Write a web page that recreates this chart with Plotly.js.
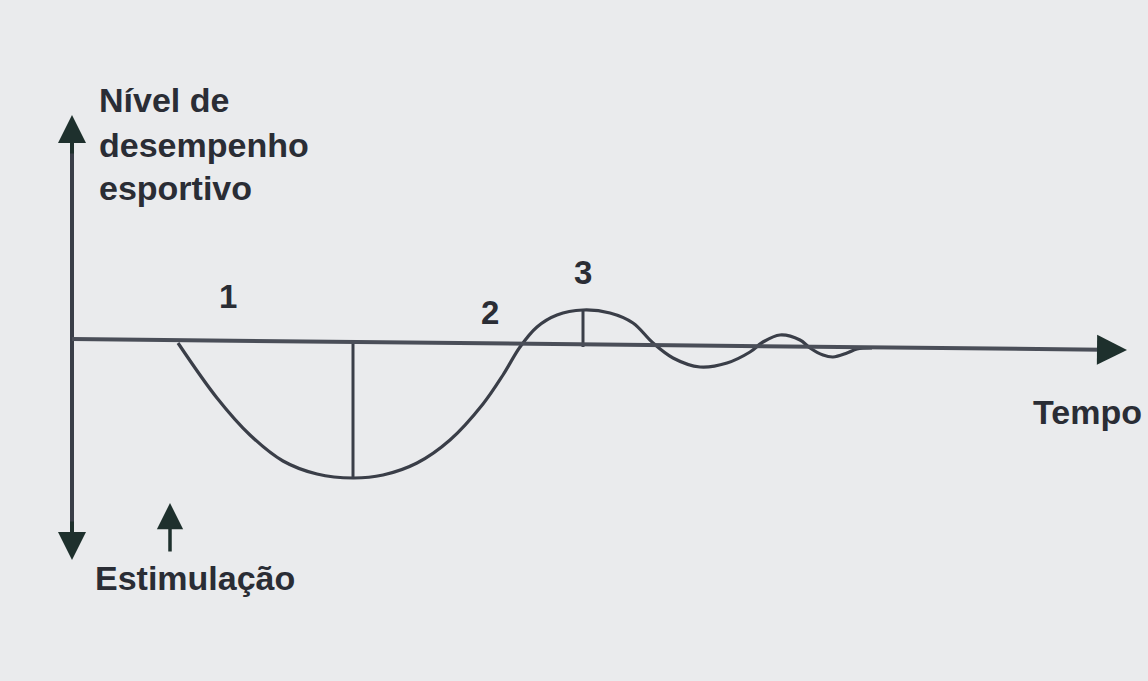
<!DOCTYPE html>
<html>
<head>
<meta charset="utf-8">
<script src="https://cdn.plot.ly/plotly-3.0.1.min.js"></script>
<style>html,body{margin:0;padding:0;background:#eaebed;}#chart{width:1148px;height:681px;}</style>
</head>
<body>
<div id="chart"></div>
<script>
// Performance response curve (time units vs. performance level)
const tempo = [10.6, 14.5, 17.8, 21.1, 24.5, 28.1, 31.1, 34.5, 37.8, 41.1, 43.1, 44.8, 46.5, 48.5, 51.1, 53.8, 56.1, 58.1, 60.1, 62.8, 65.5, 67.8, 69.1, 70.8, 72.8, 73.8, 75.1, 76.1, 77.5, 78.5, 80.0];
const desempenho = [0.2, -5.3, -9.0, -11.6, -12.9, -13.3, -13.0, -11.8, -9.5, -5.9, -3.0, -0.2, 1.8, 3.0, 3.5, 3.2, 2.2, 0.2, -1.3, -2.2, -1.8, -0.7, 0.3, 1.0, 0.5, -0.3, -1.0, -1.2, -0.8, -0.4, -0.3];

// Marker lines (time, from, to)
const markX = [28.1, 51.1];
const markFrom = [0.3, -0.2];
const markTo = [-13.3, 3.5];

// Axes extents
const timeAxis = {x0: 0, y0: 0.6, x1: 105.5, y1: -0.5};
const perfAxis = {x: 0, top: 23.0, bottom: -21.5};

// Labels
const yTitleLines = ['Nível de', 'desempenho', 'esportivo'];
const yTitleY = [24.5, 20.0, 15.7];
const phaseLabels = ['1', '2', '3'];
const phaseX = [15.6, 41.8, 51.1];
const phaseY = [4.9, 3.3, 7.3];

const ink = '#3a3e48';
const head = '#1e302d';
const textColor = '#2a2d35';
const font = 'Liberation Sans, Arial, sans-serif';

const traces = [
  {x: tempo, y: desempenho, mode: 'lines', line: {color: ink, width: 3.2, shape: 'spline', smoothing: 1}, hoverinfo: 'skip'}
];
markX.forEach((mx, i) => {
  traces.push({x: [mx, mx], y: [markFrom[i], markTo[i]], mode: 'lines', line: {color: ink, width: 3}, hoverinfo: 'skip'});
});
// axis lines
traces.push({x: [perfAxis.x, perfAxis.x], y: [perfAxis.top - 2, perfAxis.bottom + 2], mode: 'lines', line: {color: ink, width: 4}, hoverinfo: 'skip'});
traces.push({x: [timeAxis.x0, timeAxis.x1 - 2.5], y: [timeAxis.y0, timeAxis.y1 + 0.03], mode: 'lines', line: {color: '#4a4e58', width: 4}, hoverinfo: 'skip'});

const arrowBase = {xref: 'x', yref: 'y', axref: 'x', ayref: 'y', text: '', showarrow: true, arrowhead: 2, arrowcolor: head};
const annotations = [
  Object.assign({}, arrowBase, {x: perfAxis.x, y: perfAxis.top, ax: perfAxis.x, ay: perfAxis.top - 4, arrowsize: 1.4, arrowwidth: 4}),
  Object.assign({}, arrowBase, {x: perfAxis.x, y: perfAxis.bottom, ax: perfAxis.x, ay: perfAxis.bottom + 4, arrowsize: 1.4, arrowwidth: 4}),
  Object.assign({}, arrowBase, {x: timeAxis.x1, y: timeAxis.y1, ax: timeAxis.x1 - 3, ay: timeAxis.y1 + 0.03, arrowsize: 1.5, arrowwidth: 4}),
  // stimulation arrow
  Object.assign({}, arrowBase, {x: 9.8, y: -15.8, ax: 9.8, ay: -20.8, arrowsize: 1.5, arrowwidth: 3.5}),
  {x: 107.2, y: -6.7, xref: 'x', yref: 'y', xanchor: 'right', yanchor: 'middle', showarrow: false,
   text: 'Tempo', font: {family: font, size: 34, color: textColor, weight: 'bold'}},
  {x: 2.1, y: -23.3, xref: 'x', yref: 'y', xanchor: 'left', yanchor: 'middle', showarrow: false,
   text: 'Estimulação', font: {family: font, size: 34, color: textColor, weight: 'bold'}}
];
yTitleLines.forEach((t, i) => {
  annotations.push({x: 2.5, y: yTitleY[i], xref: 'x', yref: 'y', xanchor: 'left', yanchor: 'middle', showarrow: false,
    text: t, font: {family: font, size: 34, color: textColor, weight: 'bold'}});
});
phaseLabels.forEach((t, i) => {
  annotations.push({x: phaseX[i], y: phaseY[i], xref: 'x', yref: 'y', showarrow: false, text: t,
    font: {family: font, size: 33, color: textColor, weight: 'bold'}});
});

const layout = {
  width: 1148, height: 681,
  margin: {l: 0, r: 0, t: 0, b: 0},
  paper_bgcolor: '#eaebed', plot_bgcolor: '#eaebed',
  showlegend: false,
  xaxis: {range: [-7.2, 107.6], visible: false, fixedrange: true},
  yaxis: {range: [-33.6, 34.5], visible: false, fixedrange: true},
  annotations: annotations
};

Plotly.newPlot('chart', traces, layout, {displayModeBar: false, staticPlot: true});
</script>
</body>
</html>
